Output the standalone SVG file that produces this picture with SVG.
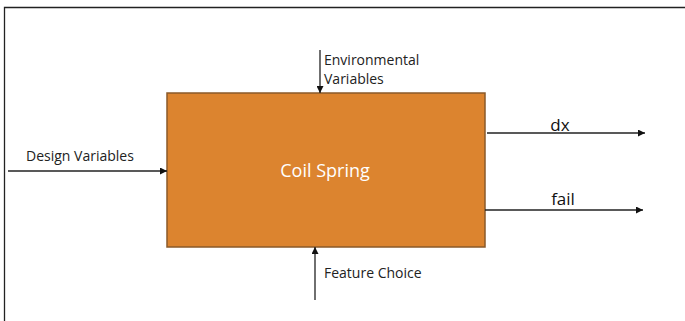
<svg xmlns="http://www.w3.org/2000/svg" width="685" height="321" viewBox="0 0 685 321">
<style>
.lbl{font-family:"Open Sans","Liberation Sans",sans-serif;font-size:14px;fill:#222}
.out{font-family:"Open Sans","Liberation Sans",sans-serif;font-size:17px;fill:#111}
.title{font-family:"Open Sans","Liberation Sans",sans-serif;font-size:18px;fill:#fff}
.ln{stroke:#222;stroke-width:1.3;fill:none}
</style>
<defs>
<marker id="ah" viewBox="0 0 10 10" refX="10" refY="5" markerWidth="7" markerHeight="7" markerUnits="userSpaceOnUse" orient="auto">
<path d="M0,0 L10,5 L0,10 z" fill="#111"/>
</marker>
</defs>
<rect width="685" height="321" fill="#fff"/>
<path d="M4.5,321 V7.5 H685" stroke="#222" stroke-width="1.3" fill="none"/>
<g id="coil-spring">
<rect x="167" y="93" width="318" height="154" fill="#DC842F" stroke="#8A5A2A" stroke-width="1.5"/>
<text class="title" x="325" y="177" text-anchor="middle">Coil Spring</text>
</g>
<g id="connectors">
<line class="ln" x1="320" y1="50" x2="320" y2="93" marker-end="url(#ah)"/>
<line class="ln" x1="8" y1="171" x2="167" y2="171" marker-end="url(#ah)"/>
<line class="ln" x1="487" y1="133" x2="645" y2="133" marker-end="url(#ah)"/>
<line class="ln" x1="485" y1="210" x2="643" y2="210" marker-end="url(#ah)"/>
<line class="ln" x1="315" y1="300" x2="315" y2="247" marker-end="url(#ah)"/>
</g>
<g id="labels">
<text class="lbl" x="324" y="65">Environmental</text>
<text class="lbl" x="324" y="84">Variables</text>
<text class="lbl" x="26" y="161">Design Variables</text>
<text class="out" x="560" y="131" text-anchor="middle">dx</text>
<text class="out" x="563" y="205" text-anchor="middle">fail</text>
<text class="lbl" x="324" y="278">Feature Choice</text>
</g>
</svg>
